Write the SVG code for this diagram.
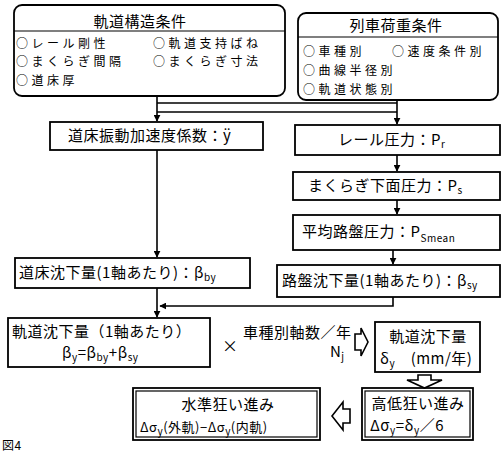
<svg xmlns="http://www.w3.org/2000/svg" width="503" height="453" viewBox="0 0 503 453">
<defs>
<style>
text{font-family:"Noto Sans CJK JP","Noto Sans",sans-serif;font-size:15px;fill:#000;letter-spacing:0.5px}
.it{font-size:12px;letter-spacing:3.5px}
.box{fill:none;stroke:#000;stroke-width:1.8}
.thin{fill:none;stroke:#000;stroke-width:1.2}
.ln{fill:none;stroke:#000;stroke-width:1.6}
.sub{font-size:10px}
.mid{text-anchor:middle}
.ha{fill:#fff;stroke:#000;stroke-width:1.6}
</style>
<marker id="ar" viewBox="0 0 10 10" refX="9" refY="5" markerWidth="7" markerHeight="7" orient="auto" markerUnits="userSpaceOnUse">
<path d="M0,0 L10,5 L0,10 z" fill="#000"/>
</marker>
</defs>
<rect width="503" height="453" fill="#fff"/>

<g id="connectors">
<path class="ln" d="M157,96 V121" marker-end="url(#ar)"/>
<path class="ln" d="M397,100 V124" marker-end="url(#ar)"/>
<path class="ln" d="M157,103 H397"/>
<path class="ln" d="M397,112 H157"/>
<path class="ln" d="M397,155 V171" marker-end="url(#ar)"/>
<path class="ln" d="M397,200 V214" marker-end="url(#ar)"/>
<path class="ln" d="M393,250 V264" marker-end="url(#ar)"/>
<path class="ln" d="M157,150 V257" marker-end="url(#ar)"/>
<path class="ln" d="M157,288 V317" marker-end="url(#ar)"/>
<path class="ln" d="M393,297 V306 H160" marker-end="url(#ar)"/>
<polygon class="ha" points="355,334 361,334 361,328 368,342 361,356 361,350 355,350"/>
<polygon class="ha" points="418,375 431,375 431,380 442,380 424.5,388 407,380 418,380"/>
<polygon class="ha" points="350,409 343,409 343,402 332,416 343,430 343,423 350,423"/>
</g>

<g id="track-structure">
<rect class="box" x="14" y="5" width="271" height="91" rx="8"/>
<line class="thin" x1="14" y1="31" x2="285" y2="31"/>
<text class="mid" x="140" y="27">軌道構造条件</text>
<text class="it" x="16" y="48">○レール剛性</text>
<text class="it" x="153" y="48">○軌道支持ばね</text>
<text class="it" x="16" y="66">○まくらぎ間隔</text>
<text class="it" x="153" y="66">○まくらぎ寸法</text>
<text class="it" x="16" y="85">○道床厚</text>
</g>

<g id="train-load">
<rect class="box" x="298" y="13" width="200" height="87" rx="8"/>
<line class="thin" x1="298" y1="37" x2="498" y2="37"/>
<text class="mid" x="396" y="31">列車荷重条件</text>
<text class="it" x="303" y="56">○車種別</text>
<text class="it" x="392" y="56">○速度条件別</text>
<text class="it" x="303" y="75">○曲線半径別</text>
<text class="it" x="303" y="94">○軌道状態別</text>
</g>

<g id="gamma">
<rect class="box" x="50" y="122" width="213" height="28"/>
<text x="68" y="141">道床振動加速度係数：ÿ</text>
</g>

<g id="rail-pressure">
<rect class="box" x="295" y="125" width="205" height="30"/>
<text x="338" y="145">レール圧力：P<tspan class="sub" dy="3">r</tspan></text>
</g>

<g id="sleeper-pressure">
<rect class="box" x="293" y="172" width="207" height="28"/>
<text x="308" y="191">まくらぎ下面圧力：P<tspan class="sub" dy="3">s</tspan></text>
</g>

<g id="roadbed-pressure">
<rect class="box" x="293" y="215" width="207" height="35"/>
<text x="302" y="237">平均路盤圧力：P<tspan class="sub" dy="5">Smean</tspan></text>
</g>

<g id="ballast-settlement">
<rect class="box" x="15" y="258" width="235" height="30"/>
<text x="19" y="278">道床沈下量(1軸あたり)：β<tspan class="sub" dy="3">by</tspan></text>
</g>

<g id="roadbed-settlement">
<rect class="box" x="277" y="265" width="223" height="32"/>
<text x="282" y="286">路盤沈下量(1軸あたり)：β<tspan class="sub" dy="3">sy</tspan></text>
</g>

<g id="track-settlement-axle">
<rect class="box" x="8" y="318" width="202" height="49"/>
<text x="12" y="337">軌道沈下量（1軸あたり）</text>
<text x="62" y="358">β<tspan class="sub" dy="3">y</tspan><tspan dy="-3">=β</tspan><tspan class="sub" dy="3">by</tspan><tspan dy="-3">+β</tspan><tspan class="sub" dy="3">sy</tspan></text>
</g>

<g id="axles">
<text x="222" y="352" style="font-size:16px">×</text>
<text x="243" y="338">車種別軸数／年</text>
<text x="330" y="357">N<tspan class="sub" dy="3">j</tspan></text>
</g>

<g id="track-settlement">
<rect class="box" x="375" y="322" width="105" height="50"/>
<text class="mid" x="428" y="342">軌道沈下量</text>
<text x="380" y="364">δ<tspan class="sub" dy="3">y</tspan><tspan dy="-3">　(mm/年)</tspan></text>
</g>

<g id="vertical-irregularity">
<rect class="box" x="362" y="388" width="111" height="52"/>
<rect class="thin" x="365" y="391" width="105" height="46"/>
<text class="mid" x="418" y="409">高低狂い進み</text>
<text x="370" y="431">Δσ<tspan class="sub" dy="3">y</tspan><tspan dy="-3">=δ</tspan><tspan class="sub" dy="3">y</tspan><tspan dy="-3">／6</tspan></text>
</g>

<g id="cross-level">
<rect class="box" x="133" y="388" width="187" height="52"/>
<rect class="thin" x="136" y="391" width="181" height="46"/>
<text class="mid" x="228" y="410">水準狂い進み</text>
<text x="140" y="432" style="font-size:13px">Δσ<tspan class="sub" dy="3">y</tspan><tspan dy="-3">(外軌)−Δσ</tspan><tspan class="sub" dy="3">y</tspan><tspan dy="-3">(内軌)</tspan></text>
</g>

<g id="caption">
<text x="2" y="450" style="font-size:12px">図4</text>
</g>
</svg>
